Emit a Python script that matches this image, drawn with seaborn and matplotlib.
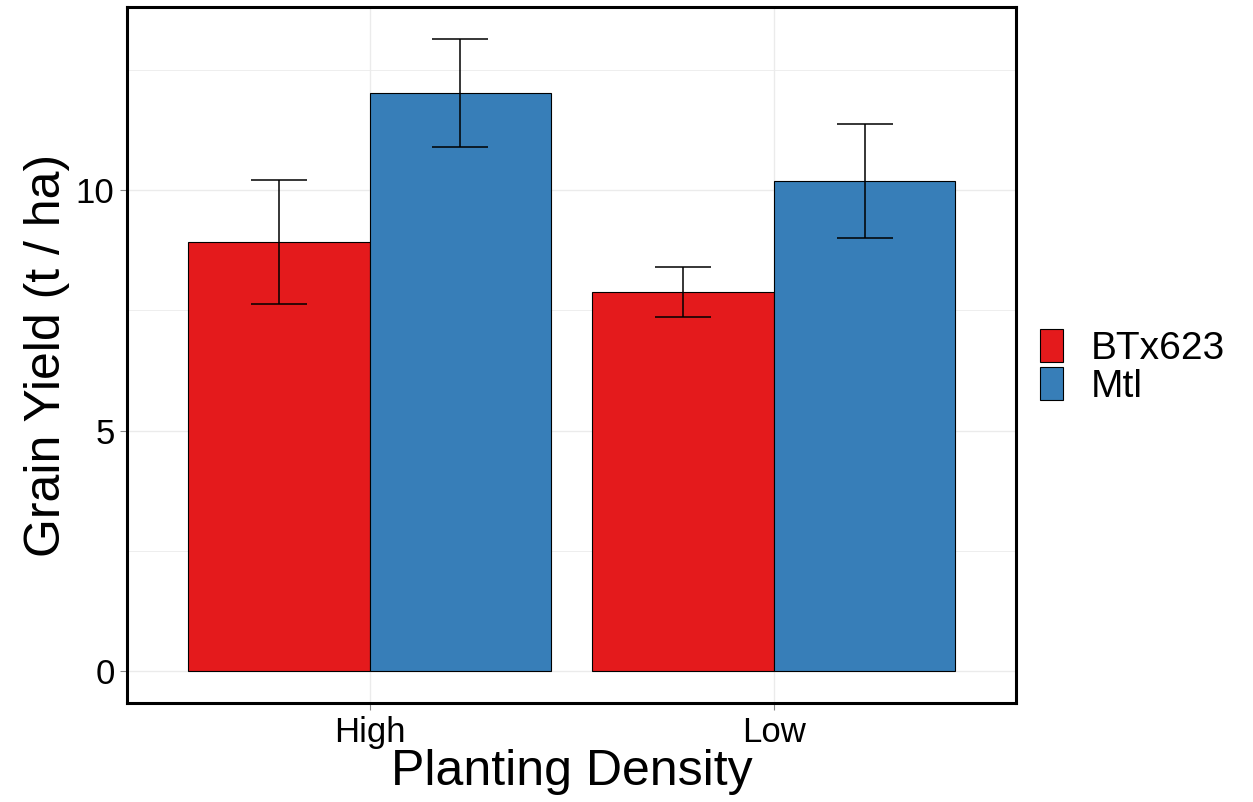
import matplotlib
matplotlib.use("Agg")
import matplotlib.pyplot as plt
import seaborn as sns
import pandas as pd

# values
density = ["High", "High", "Low", "Low"]
genotype = ["BTx623", "Mtl", "BTx623", "Mtl"]
yield_mean = [8.92, 12.02, 7.88, 10.19]
yield_err = [1.29, 1.12, 0.52, 1.18]

df = pd.DataFrame({"density": density, "genotype": genotype,
                   "yield": yield_mean, "err": yield_err})

sns.set_theme(style="whitegrid")
plt.rcParams["font.family"] = ["Liberation Sans", "DejaVu Sans"]
plt.rcParams["text.color"] = "black"
plt.rcParams["axes.labelcolor"] = "black"

fig = plt.figure(figsize=(12.53, 8.02), dpi=100)
ax = fig.add_axes([0.1014, 0.1234, 0.7095, 0.8679])

palette = {"BTx623": "#E41A1C", "Mtl": "#377EB8"}
sns.barplot(data=df, x="density", y="yield", hue="genotype", palette=palette,
            order=["High", "Low"], hue_order=["BTx623", "Mtl"],
            width=0.9, gap=0, errorbar=None, edgecolor="black", linewidth=0.8,
            saturation=1, ax=ax)

# error bars at the centre of each seaborn bar
for cont, g in zip(ax.containers, ["BTx623", "Mtl"]):
    sub = df[df.genotype == g].set_index("density").loc[["High", "Low"]]
    xs = [b.get_x() + b.get_width() / 2 for b in cont]
    hs = [b.get_height() for b in cont]
    ax.errorbar(xs, hs, yerr=sub["err"].values, fmt="none", ecolor="black",
                elinewidth=1.1, capsize=20, capthick=1.1, zorder=5)

ax.set_xlim(-0.6, 1.6)
ax.set_ylim(-0.657, 13.80)
ax.set_yticks([0, 5, 10])
ax.set_yticks([2.5, 7.5, 12.5], minor=True)
ax.grid(True, which="major", color="#EBEBEB", linewidth=1.0)
ax.grid(True, which="minor", axis="y", color="#EBEBEB", linewidth=0.6)
ax.set_axisbelow(True)

ax.tick_params(axis="both", which="major", labelsize=25, colors="#888888",
               labelcolor="black", length=5, width=0.8, pad=4, left=True, bottom=True)
ax.tick_params(axis="y", which="minor", length=0)
for s in ax.spines.values():
    s.set_color("black")
    s.set_linewidth(2.2)

ax.set_xlabel("Planting Density", fontsize=36, labelpad=0)
ax.set_ylabel("Grain Yield (t / ha)", fontsize=36, labelpad=4)

ax.legend(title=None, loc="center left", bbox_to_anchor=(1.027, 0.483), frameon=False,
          fontsize=28, handlelength=0.6, handleheight=0.95, labelspacing=0.0,
          handletextpad=0.7, borderaxespad=0, borderpad=0)

fig.savefig("out.png", dpi=100)
